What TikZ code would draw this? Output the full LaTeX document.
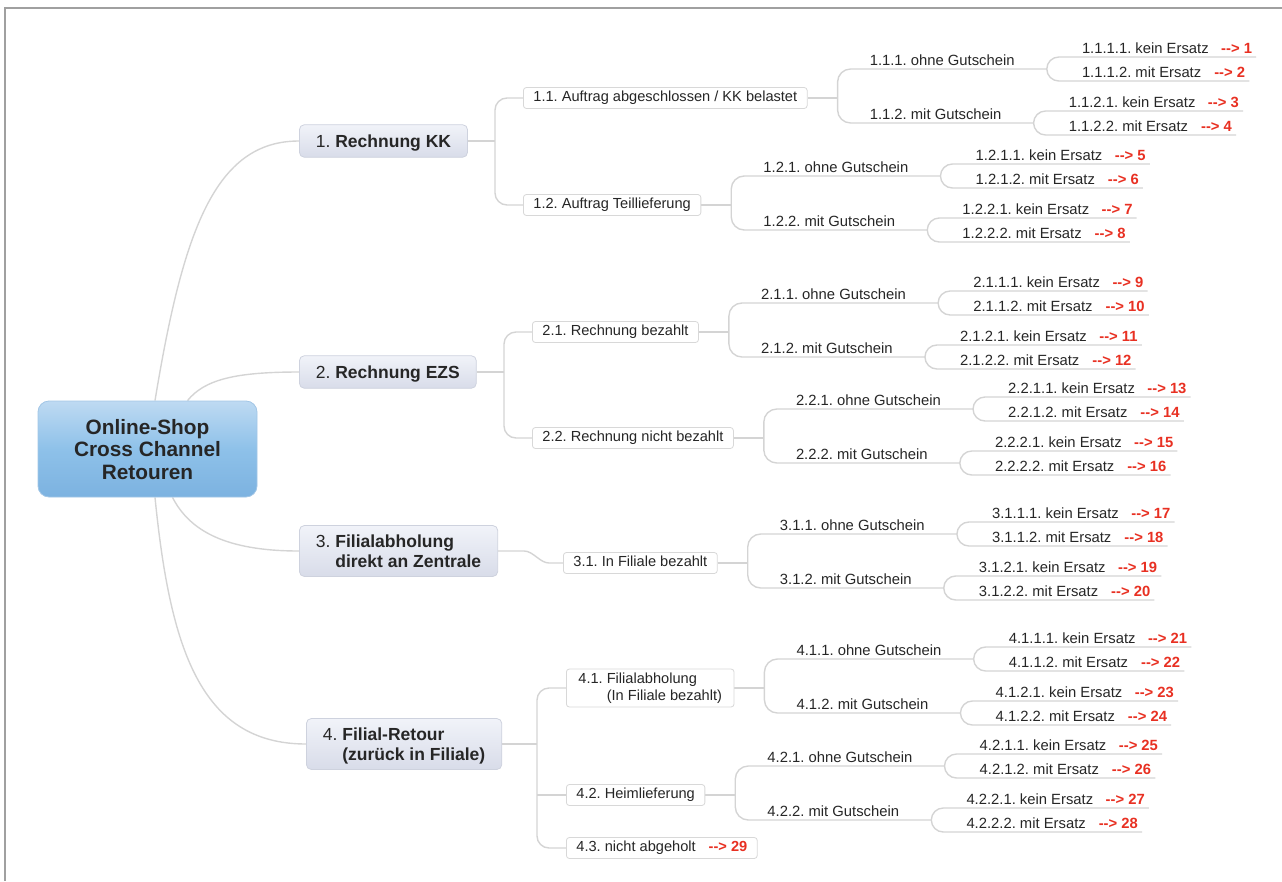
\documentclass[tikz,border=0pt]{standalone}
\usepackage{fontspec}
\setmainfont{Liberation Sans}
\usetikzlibrary{calc,backgrounds}
\AtBeginDocument{\frenchspacing}
\definecolor{txt}{RGB}{38,38,38}
\definecolor{conncol}{RGB}{212,212,212}
\definecolor{arrred}{RGB}{232,48,34}
\definecolor{framecol}{RGB}{160,160,160}
\definecolor{lonetop}{RGB}{241,243,249}
\definecolor{lonebot}{RGB}{216,220,233}
\definecolor{loneborder}{RGB}{206,210,222}
\definecolor{ltwoborder}{RGB}{216,216,216}
\definecolor{maintop}{RGB}{190,218,242}
\definecolor{mainmid}{RGB}{142,193,233}
\definecolor{mainbot}{RGB}{124,178,224}
\definecolor{mainborder}{RGB}{162,198,230}
\newcommand\redarr[2][12.5pt]{\hspace{#1}\textcolor{arrred}{\bfseries -{}-{}>~#2}}
\tikzset{
  every node/.style={text=txt},
  mainbox/.style={draw=mainborder, line width=0.8pt, rounded corners=11pt,
    top color=maintop, bottom color=mainbot, middle color=mainmid,
    minimum width=219pt, align=center,
    font=\fontsize{20.8}{22.5}\selectfont\bfseries\frenchspacing,
    text height=60pt, text depth=0pt, inner ysep=18pt},
  lone/.style={draw=loneborder, line width=0.8pt, rounded corners=5pt,
    top color=lonetop, bottom color=lonebot,
    font=\fontsize{17.5}{20}\selectfont\frenchspacing, inner xsep=16.5pt,
    text height=12.6pt, text depth=0pt, inner ysep=10pt, anchor=west, align=left},
  lonetwo/.style={lone, text height=32.6pt, text depth=0pt, inner ysep=9.2pt},
  ltwo/.style={draw=ltwoborder, line width=0.8pt, fill=white, rounded corners=3pt,
    font=\fontsize{14.6}{17}\selectfont\frenchspacing, inner xsep=10pt,
    text height=10.5pt, text depth=3pt, inner ysep=3.75pt, anchor=west, align=left},
  ltwotwo/.style={ltwo, text height=27.5pt, text depth=3pt, inner xsep=12pt},
  lthree/.style={font=\fontsize{14.8}{17}\selectfont\frenchspacing, inner xsep=4pt, inner ysep=3.5pt,
    text height=10.5pt, text depth=0pt, anchor=south west},
  leafnode/.style={lthree},
  conn/.style={draw=conncol, line width=1.4pt},
}
\newcommand\mmsubtree[6]{%
  \coordinate (bar#1) at ($(n#1.east)+(30,0)$);
  \node[lthree] (n#1a) at ($(bar#1)+(28,-29)$) {#2.1. ohne Gutschein};
  \node[lthree] (n#1b) at ($(bar#1)+(28,25)$) {#2.2. mit Gutschein};
  \coordinate (k#1a) at ($(n#1a.south east)+(28,0)$);
  \coordinate (k#1b) at ($(n#1b.south east)+(28,0)$);
  \node[leafnode] (n#1a1) at ($(k#1a)+(31,-12)$) {#2.1.1. kein Ersatz\redarr{#3}};
  \node[leafnode] (n#1a2) at ($(k#1a)+(31,12)$) {#2.1.2. mit Ersatz\redarr[13pt]{#4}};
  \node[leafnode] (n#1b1) at ($(k#1b)+(31,-12)$) {#2.2.1. kein Ersatz\redarr{#5}};
  \node[leafnode] (n#1b2) at ($(k#1b)+(31,12)$) {#2.2.2. mit Ersatz\redarr[13pt]{#6}};
  \begin{scope}[on background layer]
    \draw[conn] (n#1.east) -- (bar#1);
    \draw[conn, rounded corners=13pt] (k#1a) -- (bar#1 |- k#1a) -- (bar#1 |- k#1b) -- (k#1b);
    \draw[conn, rounded corners=12pt] (n#1a1.south east) -- (k#1a |- n#1a1.south) -- (k#1a |- n#1a2.south) -- (n#1a2.south east);
    \draw[conn, rounded corners=12pt] (n#1b1.south east) -- (k#1b |- n#1b1.south) -- (k#1b |- n#1b2.south) -- (n#1b2.south east);
  \end{scope}
}
\begin{document}
\begin{tikzpicture}[x=1pt,y=-1pt]
\useasboundingbox (0,0) rectangle (1282,881);
\draw[framecol, line width=1.3pt] (5,881) -- (5,8) -- (1282,8);

% root
\node[mainbox] (main) at (147.5,449) {Online-Shop\\Cross Channel\\Retouren};

% level 1
\node[lone] (n1) at (299,141) {1. \textbf{Rechnung KK}};
\node[lone] (n2) at (299,372) {2. \textbf{Rechnung EZS}};
\node[lonetwo] (n3) at (299,551) {3. \textbf{Filialabholung}\\\phantom{3. }\textbf{direkt an Zentrale}};
\node[lonetwo] (n4) at (306,744) {4. \textbf{Filial-Retour}\\\phantom{4. }\textbf{(zurück in Filiale)}};

% level 2
\node[ltwo] (n11) at (523,98) {1.1. Auftrag abgeschlossen / KK belastet};
\node[ltwo] (n12) at (523,205) {1.2. Auftrag Teillieferung};
\node[ltwo] (n21) at (532,332) {2.1. Rechnung bezahlt};
\node[ltwo] (n22) at (532,438) {2.2. Rechnung nicht bezahlt};
\node[ltwo] (n31) at (563,563) {3.1. In Filiale bezahlt};
\node[ltwotwo] (n41) at (566,688) {4.1. Filialabholung\\\phantom{4.1. }(In Filiale bezahlt)};
\node[ltwo] (n42) at (566,795) {4.2. Heimlieferung};
\node[ltwo] (n43) at (566,848) {4.3. nicht abgeholt\redarr[13pt]{29}};

% levels 3 and 4
\mmsubtree{11}{1.1}{1}{2}{3}{4}
\mmsubtree{12}{1.2}{5}{6}{7}{8}
\mmsubtree{21}{2.1}{9}{10}{11}{12}
\mmsubtree{22}{2.2}{13}{14}{15}{16}
\mmsubtree{31}{3.1}{17}{18}{19}{20}
\mmsubtree{41}{4.1}{21}{22}{23}{24}
\mmsubtree{42}{4.2}{25}{26}{27}{28}

\coordinate (b1) at ($(n11.west)+(-28,0)$);
\coordinate (b2) at ($(n21.west)+(-28,0)$);
\coordinate (b4) at ($(n41.west)+(-29,0)$);

\begin{scope}[on background layer]
  % root to level 1
  \draw[conn] ($(main.north)+(7.5,0)$) .. controls +(28,-170) and +(-84,0) .. (n1.west);
  \draw[conn] ($(main.north)+(40,0)$) .. controls +(17,-21) and +(-64,0) .. (n2.west);
  \draw[conn] ($(main.south)+(25,0)$) .. controls +(17,33) and +(-74,0) .. (n3.west);
  \draw[conn] ($(main.south)+(7.5,0)$) .. controls +(15,150) and +(-106,0) .. (n4.west);
  % level 1 to level 2
  \draw[conn] (n1.east) -- (b1 |- n1.east);
  \draw[conn, rounded corners=12pt] (n11.west) -- (b1) -- (b1 |- n12.west) -- (n12.west);
  \draw[conn] (n2.east) -- (b2 |- n2.east);
  \draw[conn, rounded corners=12pt] (n21.west) -- (b2) -- (b2 |- n22.west) -- (n22.west);
  \draw[conn] (n3.east) -- ++(26,0) .. controls +(9,0) and +(-9,0) .. ($(n31.west)+(-14,0)$) -- (n31.west);
  \draw[conn] (n4.east) -- (b4 |- n4.east);
  \draw[conn, rounded corners=12pt] (n41.west) -- (b4) -- (b4 |- n43.west) -- (n43.west);
  \draw[conn] (b4 |- n42.west) -- (n42.west);
\end{scope}
\end{tikzpicture}
\end{document}
